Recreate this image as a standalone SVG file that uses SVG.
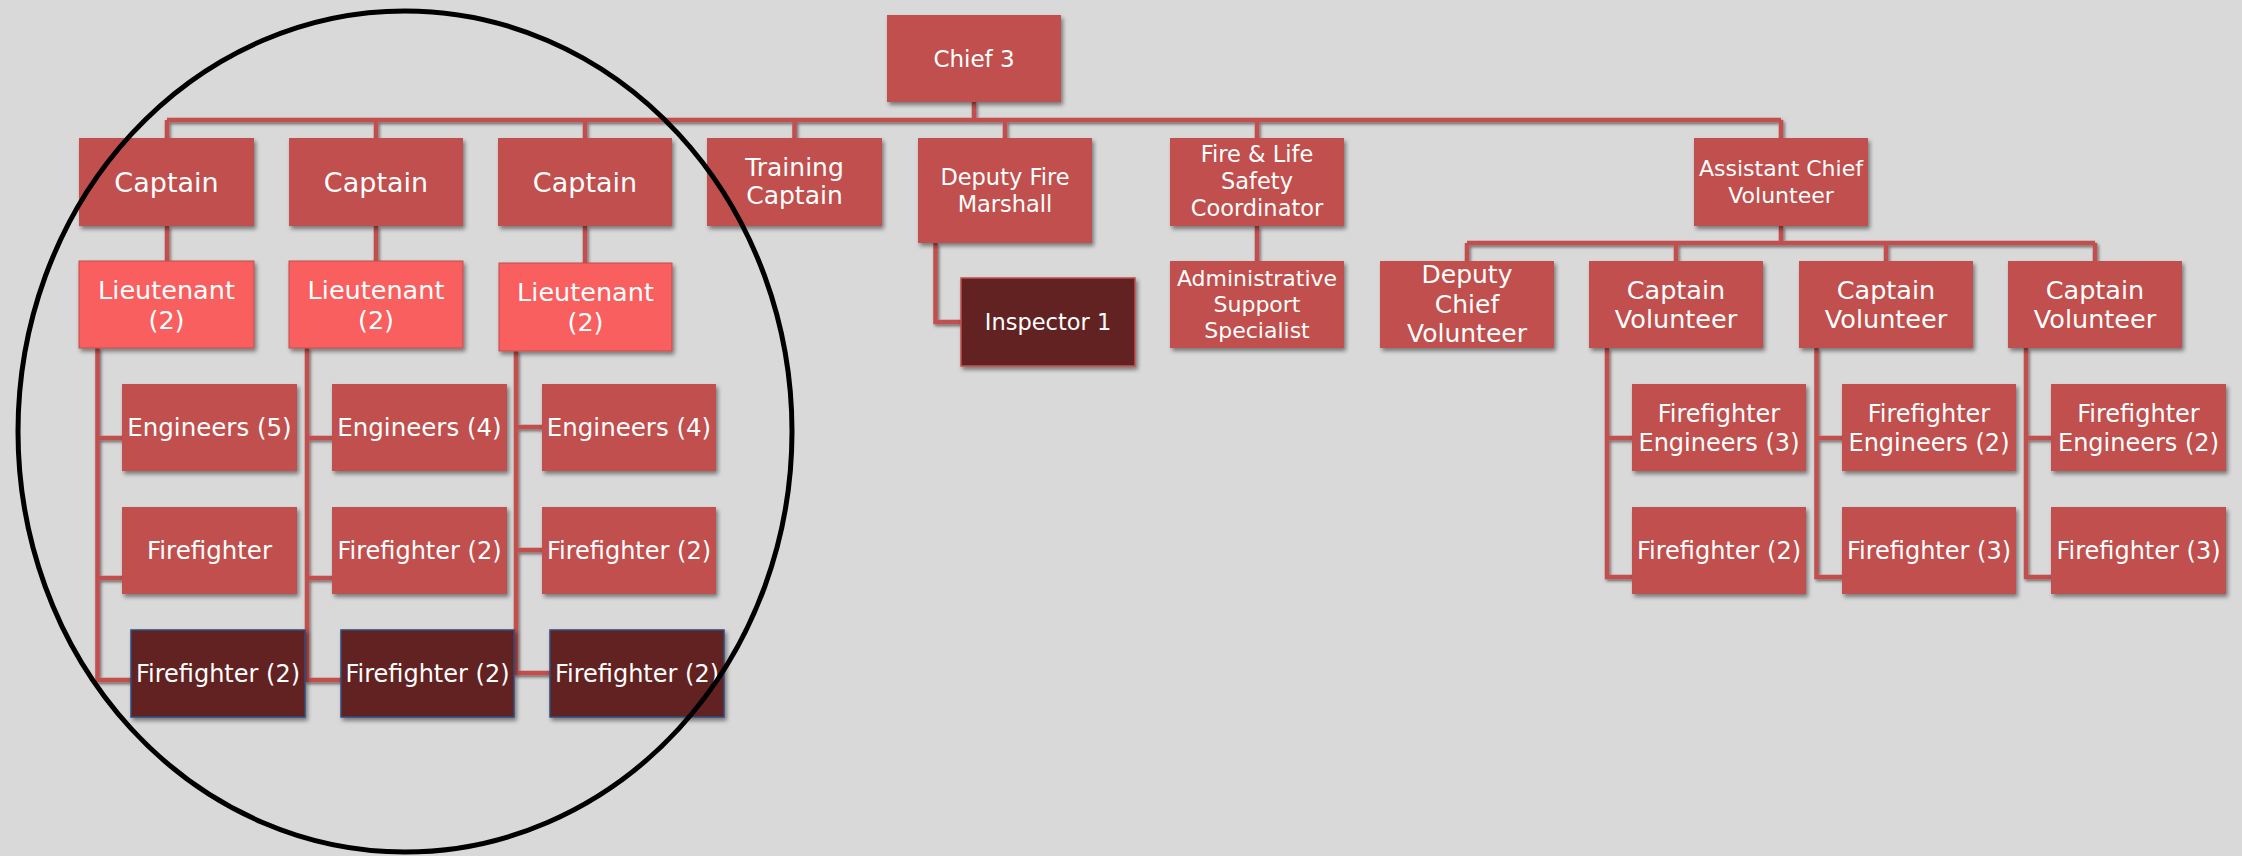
<svg xmlns="http://www.w3.org/2000/svg" width="2242" height="856" viewBox="0 0 2242 856">
<defs>
<filter id="sh" x="-10%" y="-10%" width="130%" height="140%">
<feDropShadow dx="2" dy="3" stdDeviation="2" flood-color="#000" flood-opacity="0.45"/>
</filter>
<filter id="lsh" x="-20%" y="-20%" width="140%" height="140%">
<feDropShadow dx="1.5" dy="2" stdDeviation="1.5" flood-color="#000" flood-opacity="0.5"/>
</filter>
<style>
.b{fill:#C0504D;filter:url(#sh)}
.l{fill:#F95F5F;stroke:#C0504D;stroke-width:1;filter:url(#sh)}
.d{fill:#632423;stroke:#2F4B7C;stroke-width:1.5;filter:url(#sh)}
.i{fill:#632423;stroke:#C0504D;stroke-width:1.5;filter:url(#sh)}
text{font-family:"DejaVu Sans","Liberation Sans",sans-serif;fill:#FFFFFF;text-anchor:middle}
.c{fill:none;stroke:#C0504D;stroke-width:4.5;stroke-linejoin:miter}
</style>
</defs>
<rect x="0" y="0" width="2242" height="856" fill="#D9D9D9"/>
<g id="connectors" filter="url(#lsh)">
<path class="c" d="M974,102V120M167,120H1781M167,120V138M376,120V138M585,120V138M794.5,120V138M1005,120V138M1257,120V138M1781,120V138"/>
<path class="c" d="M167,226V261M376,226V261M585,226V263M1257,226V261"/>
<path class="c" d="M935.5,243V322H961"/>
<path class="c" d="M1781,226V243M1467,243H2095M1467,243V261M1676,243V261M1886,243V261M2095,243V261"/>
<path class="c" d="M97.5,348V680H131M97.5,438H122M97.5,578H122"/>
<path class="c" d="M307,348V680H341M307,438H332M307,578H332"/>
<path class="c" d="M516,351V673H550M516,427H542M516,550H542"/>
<path class="c" d="M1607,348V577H1632M1607,438H1632"/>
<path class="c" d="M1816.5,348V577H1842M1816.5,438H1842"/>
<path class="c" d="M2026,348V577H2051M2026,438H2051"/>
</g>
<g id="chief"><rect class="b" x="887" y="15" width="174" height="87"/><text x="974" y="67" font-size="23">Chief 3</text></g>
<g id="captain1"><rect class="b" x="79" y="138" width="175" height="88"/><text x="166.5" y="191.5" font-size="27">Captain</text></g>
<g id="captain2"><rect class="b" x="289" y="138" width="174" height="88"/><text x="376" y="191.5" font-size="27">Captain</text></g>
<g id="captain3"><rect class="b" x="498" y="138" width="174" height="88"/><text x="585" y="191.5" font-size="27">Captain</text></g>
<g id="training-captain"><rect class="b" x="707" y="138" width="175" height="88"/><text x="794.5" y="176" font-size="25">Training</text><text x="794.5" y="204" font-size="25">Captain</text></g>
<g id="deputy-fire-marshall"><rect class="b" x="918" y="138" width="174" height="105"/><text x="1005" y="185" font-size="22.5">Deputy Fire</text><text x="1005" y="211.5" font-size="22.5">Marshall</text></g>
<g id="fire-life-safety"><rect class="b" x="1170" y="138" width="174" height="88"/><text x="1257" y="162" font-size="22.5">Fire &amp; Life</text><text x="1257" y="189" font-size="22.5">Safety</text><text x="1257" y="216" font-size="22.5">Coordinator</text></g>
<g id="assistant-chief"><rect class="b" x="1694" y="138" width="174" height="88"/><text x="1781" y="176" font-size="22">Assistant Chief</text><text x="1781" y="203" font-size="22">Volunteer</text></g>
<g id="lieutenant1"><rect class="l" x="79" y="261" width="175" height="87"/><text x="166.5" y="299" font-size="25.5">Lieutenant</text><text x="166.5" y="329" font-size="25.5">(2)</text></g>
<g id="lieutenant2"><rect class="l" x="289" y="261" width="174" height="87"/><text x="376" y="299" font-size="25.5">Lieutenant</text><text x="376" y="329" font-size="25.5">(2)</text></g>
<g id="lieutenant3"><rect class="l" x="499" y="263" width="173" height="88"/><text x="585.5" y="301" font-size="25.5">Lieutenant</text><text x="585.5" y="331" font-size="25.5">(2)</text></g>
<g id="inspector"><rect class="i" x="961" y="278" width="174" height="88"/><text x="1048" y="330" font-size="22.5">Inspector 1</text></g>
<g id="admin-support"><rect class="b" x="1170" y="261" width="174" height="87"/><text x="1257" y="286" font-size="22">Administrative</text><text x="1257" y="312" font-size="22">Support</text><text x="1257" y="338" font-size="22">Specialist</text></g>
<g id="deputy-chief-volunteer"><rect class="b" x="1380" y="261" width="174" height="87"/><text x="1467" y="283" font-size="25">Deputy</text><text x="1467" y="312.5" font-size="25">Chief</text><text x="1467" y="342" font-size="25">Volunteer</text></g>
<g id="captain-volunteer1"><rect class="b" x="1589" y="261" width="174" height="87"/><text x="1676" y="299" font-size="25.5">Captain</text><text x="1676" y="328" font-size="25.5">Volunteer</text></g>
<g id="captain-volunteer2"><rect class="b" x="1799" y="261" width="174" height="87"/><text x="1886" y="299" font-size="25.5">Captain</text><text x="1886" y="328" font-size="25.5">Volunteer</text></g>
<g id="captain-volunteer3"><rect class="b" x="2008" y="261" width="174" height="87"/><text x="2095" y="299" font-size="25.5">Captain</text><text x="2095" y="328" font-size="25.5">Volunteer</text></g>
<g id="engineers1"><rect class="b" x="122" y="384" width="175" height="87"/><text x="209.5" y="436" font-size="24.5">Engineers (5)</text></g>
<g id="engineers2"><rect class="b" x="332" y="384" width="175" height="87"/><text x="419.5" y="436" font-size="24.5">Engineers (4)</text></g>
<g id="engineers3"><rect class="b" x="542" y="384" width="174" height="87"/><text x="629" y="436" font-size="24.5">Engineers (4)</text></g>
<g id="firefighter1"><rect class="b" x="122" y="507" width="175" height="87"/><text x="209.5" y="559" font-size="24.5">Firefighter</text></g>
<g id="firefighter2"><rect class="b" x="332" y="507" width="175" height="87"/><text x="419.5" y="559" font-size="24">Firefighter (2)</text></g>
<g id="firefighter3"><rect class="b" x="542" y="507" width="174" height="87"/><text x="629" y="559" font-size="24">Firefighter (2)</text></g>
<g id="dark-firefighter1"><rect class="d" x="131" y="630" width="174" height="87"/><text x="218" y="682" font-size="24">Firefighter (2)</text></g>
<g id="dark-firefighter2"><rect class="d" x="341" y="630" width="173" height="87"/><text x="427.5" y="682" font-size="24">Firefighter (2)</text></g>
<g id="dark-firefighter3"><rect class="d" x="550" y="630" width="174" height="87"/><text x="637" y="682" font-size="24">Firefighter (2)</text></g>
<g id="ff-engineers1"><rect class="b" x="1632" y="384" width="174" height="87"/><text x="1719" y="421.5" font-size="24">Firefighter</text><text x="1719" y="450.5" font-size="24">Engineers (3)</text></g>
<g id="ff-engineers2"><rect class="b" x="1842" y="384" width="174" height="87"/><text x="1929" y="421.5" font-size="24">Firefighter</text><text x="1929" y="450.5" font-size="24">Engineers (2)</text></g>
<g id="ff-engineers3"><rect class="b" x="2051" y="384" width="175" height="87"/><text x="2138.5" y="421.5" font-size="24">Firefighter</text><text x="2138.5" y="450.5" font-size="24">Engineers (2)</text></g>
<g id="vol-firefighter1"><rect class="b" x="1632" y="507" width="174" height="87"/><text x="1719" y="559" font-size="24">Firefighter (2)</text></g>
<g id="vol-firefighter2"><rect class="b" x="1842" y="507" width="174" height="87"/><text x="1929" y="559" font-size="24">Firefighter (3)</text></g>
<g id="vol-firefighter3"><rect class="b" x="2051" y="507" width="175" height="87"/><text x="2138.5" y="559" font-size="24">Firefighter (3)</text></g>
<g id="highlight-ellipse"><ellipse cx="405" cy="431.5" rx="387" ry="420.5" fill="none" stroke="#000000" stroke-width="5"/></g>
</svg>
